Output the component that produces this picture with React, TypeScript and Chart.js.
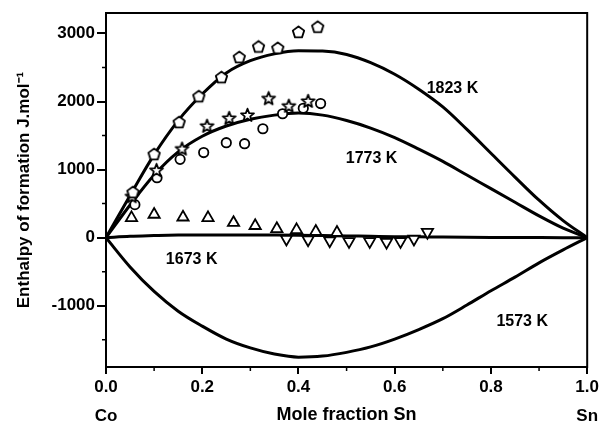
import React, { useEffect, useRef } from 'react';
import { Chart, registerables } from 'chart.js';

Chart.register(...registerables);

// Model curves
const curveX = [0, 0.05, 0.1, 0.15, 0.2, 0.25, 0.3, 0.35, 0.4, 0.45, 0.5, 0.55, 0.6, 0.65, 0.7, 0.75, 0.8, 0.85, 0.9, 0.95, 1.0];
const h1823 = [0, 620, 1220, 1720, 2110, 2420, 2600, 2700, 2745, 2740, 2690, 2570, 2400, 2180, 1920, 1590, 1240, 890, 550, 250, 0];
const h1773 = [0, 480, 920, 1260, 1490, 1640, 1740, 1800, 1830, 1800, 1720, 1610, 1470, 1300, 1120, 920, 720, 520, 320, 140, 0];
const h1673 = [0, 20, 30, 38, 40, 40, 40, 38, 35, 30, 25, 20, 15, 12, 8, 5, 3, 2, 1, 0, 0];
const h1573 = [0, -430, -790, -1080, -1300, -1490, -1620, -1710, -1755, -1740, -1685, -1605, -1490, -1350, -1190, -990, -780, -580, -370, -180, 0];

// Experimental points
const pentX = [0.056, 0.1, 0.152, 0.193, 0.24, 0.277, 0.317, 0.357, 0.4, 0.44];
const pentY = [662, 1220, 1690, 2070, 2350, 2645, 2800, 2780, 3015, 3090];
const starX = [0.054, 0.105, 0.158, 0.21, 0.256, 0.294, 0.338, 0.38, 0.42];
const starY = [600, 985, 1300, 1635, 1750, 1795, 2040, 1930, 2000];
const circX = [0.06, 0.106, 0.154, 0.203, 0.25, 0.288, 0.326, 0.367, 0.41, 0.446];
const circY = [485, 880, 1150, 1250, 1395, 1380, 1600, 1820, 1900, 1970];
const upX = [0.053, 0.1, 0.16, 0.212, 0.265, 0.31, 0.355, 0.396, 0.436, 0.48];
const upY = [290, 340, 300, 290, 220, 175, 130, 115, 90, 75];
const downX = [0.375, 0.42, 0.465, 0.505, 0.548, 0.583, 0.612, 0.64, 0.668];
const downY = [-20, -30, -45, -55, -55, -65, -55, -20, 80];

// Axes
const xTicks = [0, 0.2, 0.4, 0.6, 0.8, 1.0];
const xMinor = [0.1, 0.3, 0.5, 0.7, 0.9];
const yTicks = [-1000, 0, 1000, 2000, 3000];
const yMinor = [-1500, -500, 500, 1500, 2500];
const xTitle = 'Mole fraction Sn';
const yTitle = 'Enthalpy of formation J.mol⁻¹';
const endLabels = ['Co', 'Sn'];
const endValues = [0, 1];

// Curve annotations
const curveLabels = ['1823 K', '1773 K', '1673 K', '1573 K'];
const labelX = [0.72, 0.552, 0.178, 0.865];
const labelY = [2190, 1160, -325, -1235];

const FONT = '"Liberation Sans", Arial, sans-serif';

function makeMarker(kind: 'pentagon' | 'star'): HTMLCanvasElement {
  const size = 17;
  const c = document.createElement('canvas');
  c.width = size;
  c.height = size;
  const ctx = c.getContext('2d')!;
  const cx = size / 2, cy = size / 2;
  ctx.beginPath();
  if (kind === 'pentagon') {
    const r = 6;
    for (let k = 0; k < 5; k++) {
      const a = -Math.PI / 2 + (k * 2 * Math.PI) / 5;
      const px = cx + r * Math.cos(a), py = cy + r * Math.sin(a);
      if (k) ctx.lineTo(px, py); else ctx.moveTo(px, py);
    }
  } else {
    const ro = 6.8, ri = 2.9;
    for (let k = 0; k < 10; k++) {
      const r = k % 2 ? ri : ro;
      const a = -Math.PI / 2 + (k * Math.PI) / 5;
      const px = cx + r * Math.cos(a), py = cy + r * Math.sin(a);
      if (k) ctx.lineTo(px, py); else ctx.moveTo(px, py);
    }
  }
  ctx.closePath();
  ctx.fillStyle = '#fff';
  ctx.fill();
  ctx.lineWidth = 1.8;
  ctx.strokeStyle = '#000';
  ctx.lineJoin = 'round';
  ctx.stroke();
  return c;
}

const zip = (xs: number[], ys: number[]) => xs.map((x, i) => ({ x, y: ys[i] }));

export default function App() {
  const ref = useRef<HTMLCanvasElement | null>(null);

  useEffect(() => {
    if (!ref.current) return;
    const pent = makeMarker('pentagon');
    const star = makeMarker('star');

    const curve = (ys: number[]) => ({
      data: zip(curveX, ys),
      showLine: true,
      borderColor: '#000',
      borderWidth: 3,
      pointRadius: 0,
      cubicInterpolationMode: 'monotone' as const,
      order: 1,
    });
    const pts = (xs: number[], ys: number[], style: any, radius: number, rotation = 0) => ({
      data: zip(xs, ys),
      showLine: false,
      pointStyle: style,
      pointRadius: radius,
      pointRotation: rotation,
      borderColor: '#000',
      backgroundColor: '#fff',
      pointBorderWidth: 1.8,
      borderWidth: 1.8,
      order: 0,
    });

    const deco = {
      id: 'deco',
      afterDraw(chart: any) {
        const { ctx, chartArea: a, scales } = chart;
        const xs = scales.x, ys = scales.y;
        ctx.save();
        ctx.strokeStyle = '#000';
        ctx.lineWidth = 2;
        ctx.strokeRect(a.left, a.top, a.right - a.left, a.bottom - a.top);
        ctx.lineWidth = 1.5;
        ctx.beginPath();
        yMinor.forEach((v) => {
          const p = ys.getPixelForValue(v);
          ctx.moveTo(a.left - 4, p);
          ctx.lineTo(a.left, p);
        });
        xMinor.forEach((v) => {
          const p = xs.getPixelForValue(v);
          ctx.moveTo(p, a.bottom);
          ctx.lineTo(p, a.bottom + 4);
        });
        ctx.stroke();
        ctx.fillStyle = '#000';
        ctx.font = `bold 16px ${FONT}`;
        ctx.textAlign = 'center';
        ctx.textBaseline = 'middle';
        curveLabels.forEach((t, i) => {
          ctx.fillText(t, xs.getPixelForValue(labelX[i]), ys.getPixelForValue(labelY[i]));
        });
        ctx.font = `bold 17px ${FONT}`;
        endLabels.forEach((t, i) => {
          ctx.fillText(t, xs.getPixelForValue(endValues[i]), a.bottom + 49);
        });
        ctx.restore();
      },
    };

    const chart = new Chart(ref.current, {
      type: 'scatter',
      data: {
        datasets: [
          pts(pentX, pentY, pent, 6),
          pts(starX, starY, star, 6),
          pts(circX, circY, 'circle', 4.7),
          pts(upX, upY, 'triangle', 6.5),
          pts(downX, downY, 'triangle', 6.5, 180),
          curve(h1823),
          curve(h1773),
          curve(h1673),
          curve(h1573),
        ] as any,
      },
      options: {
        animation: false,
        responsive: true,
        maintainAspectRatio: false,
        layout: { padding: { left: 0, right: 14, top: 13, bottom: 0 } },
        plugins: { legend: { display: false }, tooltip: { enabled: false } },
        scales: {
          x: {
            type: 'linear',
            min: 0,
            max: 1,
            afterBuildTicks: (s: any) => { s.ticks = xTicks.map((v) => ({ value: v })); },
            afterFit: (s: any) => { s.height = 60; },
            ticks: {
              color: '#000',
              font: { family: FONT, size: 17, weight: 'bold' },
              padding: 3,
              maxRotation: 0,
              autoSkip: false,
              callback: (v: any) => Number(v).toFixed(1),
            },
            grid: { drawOnChartArea: false, drawTicks: true, tickLength: 7, lineWidth: 2, color: '#000' },
            border: { display: true, color: '#000', width: 2 },
            title: {
              display: true,
              text: xTitle,
              color: '#000',
              font: { family: FONT, size: 18, weight: 'bold' },
              padding: { top: 0, bottom: 1 },
            },
          },
          y: {
            type: 'linear',
            min: -1900,
            max: 3300,
            afterBuildTicks: (s: any) => { s.ticks = yTicks.map((v) => ({ value: v })); },
            afterFit: (s: any) => { s.width = 106; },
            ticks: {
              color: '#000',
              font: { family: FONT, size: 17, weight: 'bold' },
              padding: 2,
              autoSkip: false,
              callback: (v: any) => String(v),
            },
            grid: { drawOnChartArea: false, drawTicks: true, tickLength: 9, lineWidth: 2, color: '#000' },
            border: { display: true, color: '#000', width: 2 },
            title: {
              display: true,
              text: yTitle,
              color: '#000',
              font: { family: FONT, size: 17, weight: 'bold' },
              padding: { top: 14, bottom: 0 },
            },
          },
        },
      },
      plugins: [deco],
    });
    return () => chart.destroy();
  }, []);

  return (
    <div style={{ position: 'absolute', left: 0, top: 0, width: 602, height: 427, background: '#fff' }}>
      <canvas ref={ref} />
    </div>
  );
}
